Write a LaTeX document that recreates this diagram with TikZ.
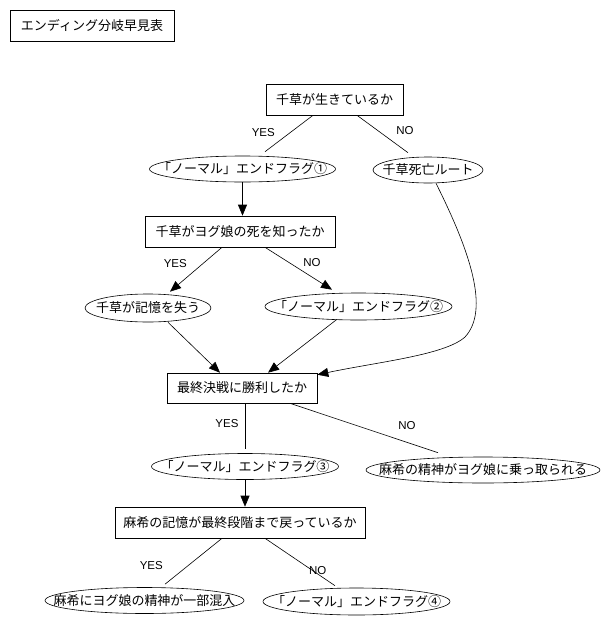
\documentclass[tikz,border=0pt]{standalone}
\usepackage{fontspec}
\setmainfont{Noto Sans CJK JP}
\newfontfamily\yesno{Liberation Sans}
\usetikzlibrary{shapes.geometric,arrows.meta}
\begin{document}
\begin{tikzpicture}[x=1pt,y=-1pt,line width=0.6pt,
    every node/.style={font=\fontsize{13}{15}\selectfont},
    box/.style={draw,rectangle,minimum height=31pt,inner sep=0pt},
    oval/.style={draw,ellipse,inner xsep=-30pt,inner ysep=-4pt,minimum height=26pt},
    lbl/.style={font=\yesno\fontsize{11.5}{13}\selectfont},
    arr/.style={-{Triangle[length=11pt,width=9pt]}}]
      \useasboundingbox (0,0) rectangle (611,627);
      \draw
        (92,25.5) node[box,minimum width=164pt] (title){エンディング分岐早見表}
        (334.5,99.5) node[box,minimum width=137pt] (q1){千草が生きているか}
        (242.5,169) node[oval,minimum width=186pt] (f1){「ノーマル」エンドフラグ①}
        (428,170) node[oval,minimum width=110pt] (r1){千草死亡ルート}
        (240,231.5) node[box,minimum width=190pt] (q2){千草がヨグ娘の死を知ったか}
        (148,308) node[oval,minimum width=126pt,minimum height=28pt] (r2){千草が記憶を失う}
        (358.5,306.5) node[oval,minimum width=187pt,minimum height=27pt] (f2){「ノーマル」エンドフラグ②}
        (242,388) node[box,minimum width=150pt,minimum height=30pt] (q3){最終決戦に勝利したか}
        (245,466.5) node[oval,minimum width=187pt] (f3){「ノーマル」エンドフラグ③}
        (483,470) node[oval,minimum width=234pt] (r3){麻希の精神がヨグ娘に乗っ取られる}
        (240,522.5) node[box,minimum width=250pt] (q4){麻希の記憶が最終段階まで戻っているか}
        (144.5,600.5) node[oval,minimum width=199pt] (r4){麻希にヨグ娘の精神が一部混入}
        (356.5,601.5) node[oval,minimum width=187pt,minimum height=27pt] (f4){「ノーマル」エンドフラグ④};
      \draw
        (263.3,132.7) node[lbl] (y1){YES}
        (405,130.8) node[lbl] (n1){NO}
        (175.3,264) node[lbl] (y2){YES}
        (312,262.3) node[lbl] (n2){NO}
        (227,423.7) node[lbl] (y3){YES}
        (407,425.3) node[lbl] (n3){NO}
        (151.3,565.3) node[lbl] (y4){YES}
        (317.7,570.3) node[lbl] (n4){NO};
      \coordinate (bend) at (465,337);
      \begin{scope}[-]
        \draw ([xshift=-21.5pt]q1.south) to ([xshift=22.5pt,yshift=4pt]f1.north);
        \draw ([xshift=22.5pt]q1.south) to ([xshift=-20pt,yshift=4pt]r1.north);
        \draw ([xshift=3pt]q3.south) to ([yshift=4pt]f3.north);
        \draw ([xshift=48pt]q3.south) to ([xshift=-45pt,yshift=4pt]r3.north);
        \draw ([xshift=-18pt]q4.south) to ([xshift=20.5pt,yshift=3pt]r4.north);
        \draw ([xshift=25pt]q4.south) to ([xshift=-21.5pt,yshift=2pt]f4.north);
      \end{scope}
      \begin{scope}[arr]
        \draw (f1.south) to (f1.south |- q2.north);
        \draw ([xshift=-18pt]q2.south) to ([xshift=22pt,yshift=2pt]r2.north);
        \draw ([xshift=25pt]q2.south) to ([xshift=-26.5pt,yshift=3pt]f2.north);
        \draw ([xshift=20pt]r2.south) to ([xshift=-22pt]q3.north);
        \draw ([xshift=-21.5pt,yshift=1pt]f2.south) to ([xshift=26pt]q3.north);
        \draw (f3.south) to (f3.south |- q4.north);
        \draw ([xshift=8pt]r1.south) .. controls +(34,68) and +(25,-27) .. (bend)
          .. controls +(-20,18) and +(62,-13) .. ([yshift=-2pt]q3.north east);
      \end{scope}
    \end{tikzpicture}
\end{document}
